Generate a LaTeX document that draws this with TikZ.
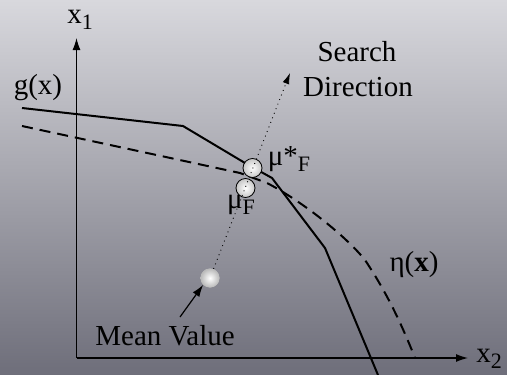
\documentclass[tikz,border=0pt]{standalone}
\usepackage{fontspec}
\setmainfont{Liberation Serif}
\usetikzlibrary{arrows.meta,calc}
\definecolor{bgtop}{HTML}{D8D8DD}
\definecolor{bgbot}{HTML}{6E6E7A}
\newcommand{\subF}[1]{\raisebox{-0.5ex}{\fontsize{22}{22}\selectfont #1}}
\begin{document}
\begin{tikzpicture}[x=1pt,y=-1pt,
  lbl/.style={inner sep=0pt, font=\fontsize{29}{31}\selectfont},
  axis/.style={line width=1.2pt, -{Latex[length=12pt,width=8pt]}},
  curveg/.style={line width=2pt},
  curveeta/.style={line width=2pt, dash pattern=on 11pt off 7pt},
  pt/.style={circle, minimum size=19pt, inner sep=0pt, draw=black, line width=0.8pt, inner color=white, outer color=gray!45},
  ballpt/.style={circle, minimum size=19pt, inner sep=0pt, inner color=white, outer color=gray!55},
  search/.style={line width=0.9pt, dash pattern=on 0.9pt off 4pt}]
\shade[top color=bgtop, bottom color=bgbot] (0,0) rectangle (507,375);
\useasboundingbox (0,0) rectangle (507,375);
% axes
\coordinate (O) at (76.5,358);
\coordinate (ytip) at (76.5,38);
\coordinate (xtip) at (468,358);
\draw[axis] (O) -- (ytip);
\draw[axis] (O) -- (xtip);
% eta(x) dashed
\draw[curveeta] (22,126) -- (240,173) -- (267,183) .. controls (300,200) and (345,235) .. (365,260) .. controls (385,290) and (400,320) .. (415,358);
% g(x) solid
\draw[curveg] (22,108) -- (183,126) -- (245,163) -- (272,178) -- (325,248) -- (378,375);
% points
\node[ballpt] (mean) at (210,278) {};
\node[pt] (mustar) at (252.5,168) {};
\node[pt] (mu) at (245.5,188) {};
\coordinate (stip) at (290,73);
\draw[search] (mean.center) -- (stip);
\draw[line width=0.9pt, -{Latex[length=11pt,width=7pt]}] ($(mean.center)!0.97!(stip)$) -- (stip);
% labels
\node[lbl] (x1) at (80,20) {x\subF{1}};
\node[lbl] (x2) at (489,359) {x\subF{2}};
\node[lbl] (g) at (38,88) {g(x)};
\node[lbl] (search) at (357,52) {Search};
\node[lbl] (dir) at (358,87) {Direction};
\node[lbl] (lmustar) at (289,159) {μ*\subF{F}};
\node[lbl] (lmu) at (241,205) {μ\subF{F}};
\node[lbl] (leta) at (414,265) {η(\textbf{x})};
\node[lbl] (lmean) at (165,336) {Mean Value};
\coordinate (mstart) at (180,317);
\draw[line width=1.2pt, -{Latex[length=12pt,width=8pt]}] (mstart) -- (mean.south west);
\node[ballpt] at (mean) {};
\end{tikzpicture}
\end{document}
